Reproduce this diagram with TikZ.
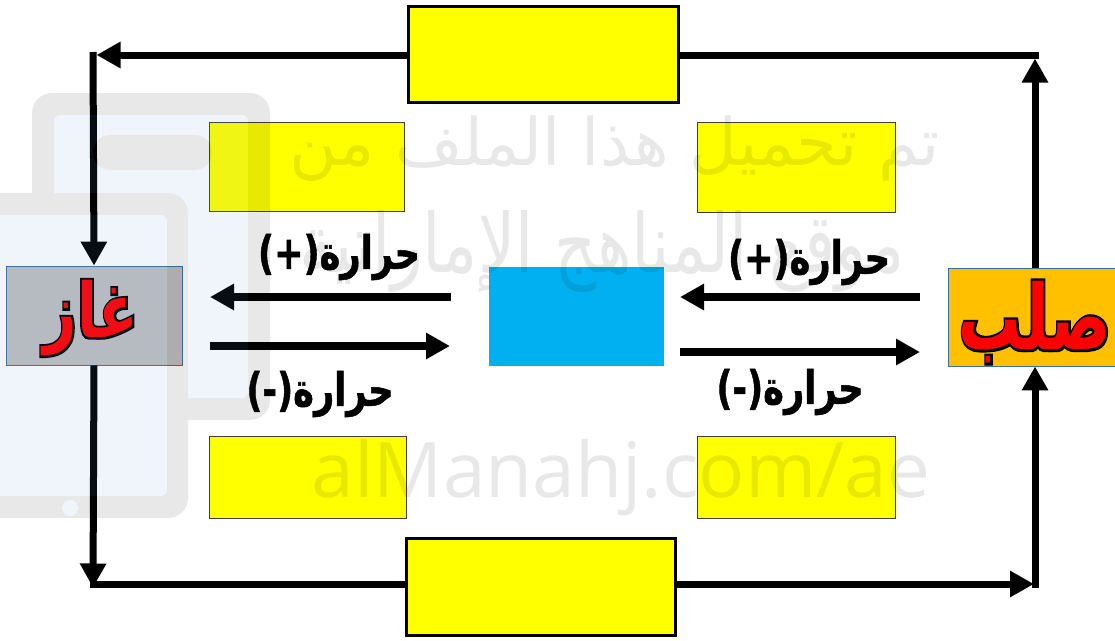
\documentclass[tikz,border=0pt]{standalone}
\usepackage{fontspec}
\usetikzlibrary{arrows.meta,calc}
\TeXXeTstate=1
\newfontfamily\arabicfont[Script=Arabic]{DejaVu Sans}
\newfontfamily\arabicbold[Script=Arabic]{DejaVu Sans Bold}
\newfontfamily\arabicblack[Script=Arabic,FakeBold=1.2]{DejaVu Sans Bold}
\newfontfamily\arabicheavy[Script=Arabic,FakeBold=6]{DejaVu Sans Bold}
\newfontfamily\latinmark{Open Sans}

\definecolor{gasgray}{HTML}{BFBFBF}
\definecolor{solidorange}{HTML}{FFC000}
\definecolor{liquidblue}{HTML}{00B0F0}
\definecolor{boxyellow}{HTML}{FFFF00}
\definecolor{edgeblue}{HTML}{41719C}
\definecolor{screenblue}{RGB}{95,155,225}

% red word with a black rim: heavy black copy under a red copy
\newcommand\rimword[1]{\makebox[0pt][l]{\arabicheavy\color{black}\beginR #1\endR}{\arabicbold\color{red}\beginR #1\endR}}
% heat caption, narrowed and stretched upward
\newcommand\heatword[1]{\scalebox{0.88}[1.15]{\arabicblack\beginR #1\endR}}

\tikzset{
  stagebox/.style={draw=black, line width=3pt, fill=boxyellow, minimum width=270pt, minimum height=96pt, inner sep=0pt},
  blankbox/.style={draw=black!75, line width=0.8pt, fill=boxyellow, inner sep=0pt},
  phasebox/.style={draw=edgeblue, line width=0.8pt, minimum width=176pt, minimum height=99pt, inner sep=0pt},
  phaselabel/.style={inner sep=0pt, font=\fontsize{58}{66}\selectfont},
  loopline/.style={line width=7pt},
  looparrow/.style={loopline, -{Triangle[length=24pt,width=25pt]}},
  heatarrow/.style={line width=8pt, -{Triangle[length=24pt,width=25pt]}},
  heatlabel/.style={inner sep=0pt, font=\fontsize{40}{48}\selectfont},
  wmtext/.style={inner sep=0pt, text=black}
}

\begin{document}
\begin{tikzpicture}[x=1pt,y=-1pt]
\clip (0,0) rectangle (1115,640);
\fill[white] (0,0) rectangle (1115,640);

% phase boxes
\node[phasebox, fill=gasgray] (gas) at (94,315.5) {};
\node[phasebox, fill=solidorange, minimum width=174pt, minimum height=98pt] (solid) at (1035,317) {};
\node[fill=liquidblue, minimum width=175pt, minimum height=99pt, inner sep=0pt] (liquid) at (576.5,316.5) {};
\node[phaselabel] (gasword) at (91,318) {\scalebox{1}[1.3]{\rimword{غاز}}};
\node[phaselabel] (solidword) at (1035,322) {\scalebox{1.08}[1.55]{\rimword{صلب}}};

% empty answer boxes
\node[stagebox] (sublim) at (543.5,54.5) {};
\node[stagebox, minimum width=269pt, minimum height=97pt] (depos) at (541,587) {};
\node[blankbox, minimum width=195pt, minimum height=89pt] (evap) at (306.5,166.5) {};
\node[blankbox, minimum width=198pt, minimum height=90pt] (melt) at (796,167) {};
\node[blankbox, minimum width=197pt, minimum height=82pt] (cond) at (307.5,477) {};
\node[blankbox, minimum width=198pt, minimum height=82pt] (freeze) at (796,477) {};

% outer loop: solid -> top box -> gas, gas -> bottom box -> solid
\coordinate (tl) at (93,55);
\coordinate (tr) at (1035,55);
\coordinate (bl) at (93,584);
\coordinate (br) at (1035,584);

\draw[looparrow] (solid.north) -- ([yshift=-3.5pt]tr);
\draw[loopline] ([xshift=3.5pt]tr) -- (sublim.east |- tr);
\draw[looparrow] (sublim.west |- tl) -- ([xshift=3.5pt]tl);
\draw[looparrow] ([yshift=3pt]tl) -- (gas.north);

\draw[looparrow] (gas.south) -- ([yshift=-3.5pt]bl);
\draw[loopline] ([xshift=-3.5pt]bl) -- (depos.west |- bl);
\draw[looparrow] (depos.east |- br) -- ([xshift=-1pt]br);
\draw[looparrow] ([yshift=-3.5pt]br) -- (solid.south);

% heat arrows
\coordinate (lu1) at (451,297);
\coordinate (lu2) at (210,297);
\coordinate (ll1) at (210,346);
\coordinate (ll2) at (450,346);
\coordinate (ru1) at (920,297);
\coordinate (ru2) at (680,297);
\coordinate (rl1) at (680,352);
\coordinate (rl2) at (920,352);
\draw[heatarrow] (lu1) -- (lu2);
\draw[heatarrow] (ll1) -- (ll2);
\draw[heatarrow] (ru1) -- (ru2);
\draw[heatarrow] (rl1) -- (rl2);

\node[heatlabel] (heatin1) at (339,257) {\heatword{حرارة(+)}};
\node[heatlabel] (heatin2) at (809,262) {\heatword{حرارة(+)}};
\node[heatlabel] (heatout1) at (320,394) {\heatword{حرارة(-)}};
\node[heatlabel] (heatout2) at (790,392) {\heatword{حرارة(-)}};

% site stamp laid over the sheet
\begin{scope}[transparency group, opacity=0.09]
  \fill[black, rounded corners=20pt] (32,93) rectangle (270,420);
  \fill[screenblue, rounded corners=6pt] (54,115) rectangle (248,398);
  \fill[black, rounded corners=17pt] (93,135) rectangle (212,170);
  \fill[black, rounded corners=20pt] (-40,193) rectangle (188,518);
  \fill[screenblue, rounded corners=6pt] (-20,215) rectangle (167,496);
  \fill[screenblue] (70,508) circle (8pt);
  \node[wmtext, anchor=base] (stamp1) at (615,165) {\resizebox{650pt}{!}{\arabicfont\beginR تم تحميل هذا الملف من\endR}};
  \node[wmtext, anchor=base] (stamp2) at (602,272) {\resizebox{605pt}{62pt}{\arabicfont\beginR موقع المناهج الإماراتية\endR}};
  \node[wmtext, anchor=base] (stamp3) at (621,497) {\resizebox{618pt}{!}{\latinmark alManahj.com/ae}};
\end{scope}
\end{tikzpicture}
\end{document}
